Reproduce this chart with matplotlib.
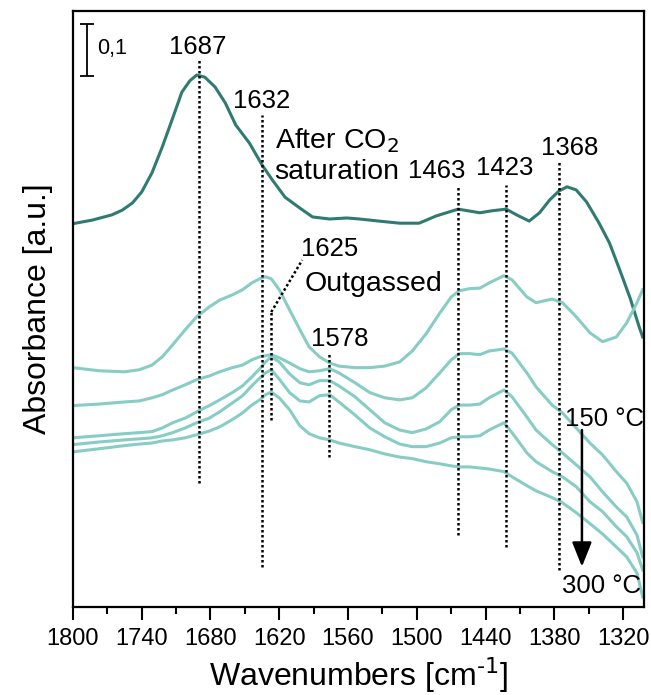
import matplotlib
matplotlib.use("Agg")
import matplotlib.pyplot as plt

plt.rcParams["font.family"] = ["Liberation Sans", "DejaVu Sans"]

# ── spectrum after CO2 saturation ───────────────────────────────────────
wn_sat = [1800, 1783, 1766, 1757, 1748, 1740, 1731, 1722, 1713, 1705, 1698, 1692,
          1685, 1676, 1667, 1658, 1646, 1635, 1626, 1615, 1602, 1591, 1576, 1561,
          1550, 1533, 1515, 1498, 1483, 1464, 1445, 1434, 1422, 1413, 1402, 1393,
          1384, 1376, 1369, 1361, 1352, 1341, 1332, 1323, 1314, 1306, 1303]
abs_sat = [0.737, 0.744, 0.754, 0.763, 0.777, 0.798, 0.835, 0.885, 0.940, 0.990,
           1.012, 1.023, 1.019, 1.000, 0.969, 0.927, 0.892, 0.850, 0.821, 0.788,
           0.767, 0.750, 0.746, 0.748, 0.746, 0.742, 0.738, 0.738, 0.752, 0.765,
           0.758, 0.762, 0.765, 0.754, 0.742, 0.758, 0.783, 0.800, 0.808, 0.802,
           0.779, 0.738, 0.700, 0.648, 0.594, 0.538, 0.519]

# ── outgassed + heated spectra (shared wavenumber grid) ─────────────────
wn = [1800, 1777, 1755, 1742, 1731, 1722, 1713, 1702, 1692, 1681, 1672, 1661,
      1652, 1644, 1637, 1632, 1627, 1620, 1611, 1602, 1594, 1585, 1576, 1568,
      1554, 1541, 1528, 1515, 1504, 1492, 1480, 1470, 1463, 1454, 1445, 1437,
      1424, 1417, 1404, 1396, 1382, 1373, 1361, 1349, 1338, 1326, 1317, 1308, 1303]
abs_outgassed = [0.460, 0.454, 0.452, 0.456, 0.465, 0.481, 0.504, 0.533, 0.558, 0.577,
                 0.590, 0.600, 0.610, 0.623, 0.631, 0.635, 0.631, 0.610, 0.571, 0.533,
                 0.500, 0.481, 0.469, 0.463, 0.460, 0.460, 0.463, 0.471, 0.492, 0.525,
                 0.565, 0.596, 0.608, 0.612, 0.613, 0.623, 0.637, 0.629, 0.596, 0.585,
                 0.592, 0.585, 0.558, 0.527, 0.510, 0.519, 0.546, 0.585, 0.610]
abs_150 = [0.387, 0.390, 0.394, 0.396, 0.402, 0.408, 0.417, 0.427, 0.437, 0.444,
           0.452, 0.460, 0.465, 0.475, 0.481, 0.483, 0.485, 0.479, 0.469, 0.458,
           0.452, 0.454, 0.458, 0.450, 0.431, 0.412, 0.402, 0.398, 0.402, 0.421,
           0.450, 0.475, 0.487, 0.487, 0.485, 0.492, 0.496, 0.488, 0.450, 0.423,
           0.388, 0.373, 0.344, 0.315, 0.292, 0.260, 0.238, 0.202, 0.162]
abs_200 = [0.325, 0.329, 0.333, 0.335, 0.337, 0.344, 0.354, 0.363, 0.375, 0.387,
           0.398, 0.412, 0.425, 0.442, 0.458, 0.471, 0.481, 0.471, 0.448, 0.431,
           0.427, 0.435, 0.435, 0.425, 0.404, 0.379, 0.354, 0.340, 0.335, 0.342,
           0.356, 0.379, 0.388, 0.388, 0.390, 0.402, 0.417, 0.404, 0.365, 0.340,
           0.312, 0.296, 0.273, 0.250, 0.221, 0.192, 0.173, 0.138, 0.096]
abs_250 = [0.312, 0.317, 0.321, 0.323, 0.325, 0.329, 0.335, 0.344, 0.354, 0.363,
           0.375, 0.392, 0.406, 0.425, 0.440, 0.450, 0.456, 0.438, 0.412, 0.396,
           0.394, 0.406, 0.408, 0.394, 0.369, 0.344, 0.327, 0.313, 0.308, 0.308,
           0.315, 0.325, 0.327, 0.327, 0.329, 0.340, 0.354, 0.335, 0.296, 0.279,
           0.260, 0.250, 0.231, 0.202, 0.183, 0.154, 0.135, 0.104, 0.071]
abs_300 = [0.298, 0.304, 0.310, 0.313, 0.315, 0.319, 0.321, 0.325, 0.331, 0.338,
           0.346, 0.360, 0.373, 0.388, 0.398, 0.408, 0.413, 0.402, 0.379, 0.348,
           0.333, 0.325, 0.321, 0.315, 0.308, 0.302, 0.294, 0.288, 0.285, 0.279,
           0.275, 0.271, 0.269, 0.269, 0.267, 0.265, 0.260, 0.250, 0.233, 0.223,
           0.210, 0.200, 0.181, 0.160, 0.140, 0.115, 0.096, 0.065, 0.019]

# ── band markers: (line position, y-bottom, y-top) ──────────────────────
band_pos = [1690, 1635, 1627, 1577, 1464, 1422, 1376]
band_lo = [0.238, 0.077, 0.360, 0.288, 0.138, 0.115, 0.071]
band_hi = [1.052, 0.946, 0.567, 0.488, 0.812, 0.812, 0.856]
band_labels = ["1687", "1632", "1625", "1578", "1463", "1423", "1368"]
label_x = [1691, 1635, 1576, 1567, 1483, 1423, 1367]
label_y = [1.077, 0.973, 0.688, 0.515, 0.838, 0.844, 0.883]

DARK = "#2f7b72"
LIGHT = "#88cdc5"
DOT = (0, (1, 1))

fig, ax = plt.subplots(figsize=(6.51, 6.95), dpi=100)
fig.subplots_adjust(left=0.112, right=0.989, bottom=0.127, top=0.984)

ax.plot(wn_sat, abs_sat, color=DARK, lw=2.2, solid_joinstyle="round")
for spec in [abs_outgassed, abs_150, abs_200, abs_250, abs_300]:
    ax.plot(wn, spec, color=LIGHT, lw=2.2, solid_joinstyle="round")

for x, lo, hi in zip(band_pos, band_lo, band_hi):
    ax.plot([x, x], [lo, hi], color="black", lw=1.8, ls=DOT)
# leader for the 1625 band
ax.plot([band_pos[2], 1600], [band_hi[2], 0.667], color="black", lw=1.8, ls=DOT)

for t, x, y in zip(band_labels, label_x, label_y):
    ax.text(x, y, t, ha="center", va="center", fontsize=18.5)

ax.text(1624, 0.896, "After CO$_2$", ha="left", va="center", fontsize=20.5)
ax.text(1624, 0.837, "saturation", ha="left", va="center", fontsize=20.5)
ax.text(1598, 0.621, "Outgassed", ha="left", va="center", fontsize=20.5)
ax.text(1371, 0.362, "150 °C", ha="left", va="center", fontsize=18.5, clip_on=False)
ax.text(1373, 0.040, "300 °C", ha="left", va="center", fontsize=18.5, clip_on=False)

ax.annotate("", xy=(1356, 0.077), xytext=(1356, 0.340),
            arrowprops=dict(arrowstyle="-|>,head_width=0.3,head_length=0.75",
                            mutation_scale=20, color="black", lw=1.8,
                            shrinkA=0, shrinkB=0))

# scale bar 0.1
ax.errorbar([1788], [1.071], yerr=0.05, color="black", lw=1.3, capsize=5, capthick=1.3)
ax.text(1779, 1.075, "0,1", ha="left", va="center", fontsize=15.5)

ax.set_xlim(1800, 1302)
ax.set_ylim(0, 1.146)
ax.set_xticks(range(1800, 1319, -60))
ax.set_xticks(range(1770, 1300, -60), minor=True)
ax.set_yticks([])
ax.tick_params(axis="x", which="major", direction="out", length=9, width=1.5,
               labelsize=17, pad=6)
ax.tick_params(axis="x", which="minor", direction="out", length=5, width=1.5)
for s in ax.spines.values():
    s.set_linewidth(1.6)

ax.set_xlabel("Wavenumbers [cm$^{\\text{-1}}$]", fontsize=23, labelpad=4)
ax.set_ylabel("Absorbance [a.u.]", fontsize=23, labelpad=14)

plt.savefig("out.png", dpi=100)
